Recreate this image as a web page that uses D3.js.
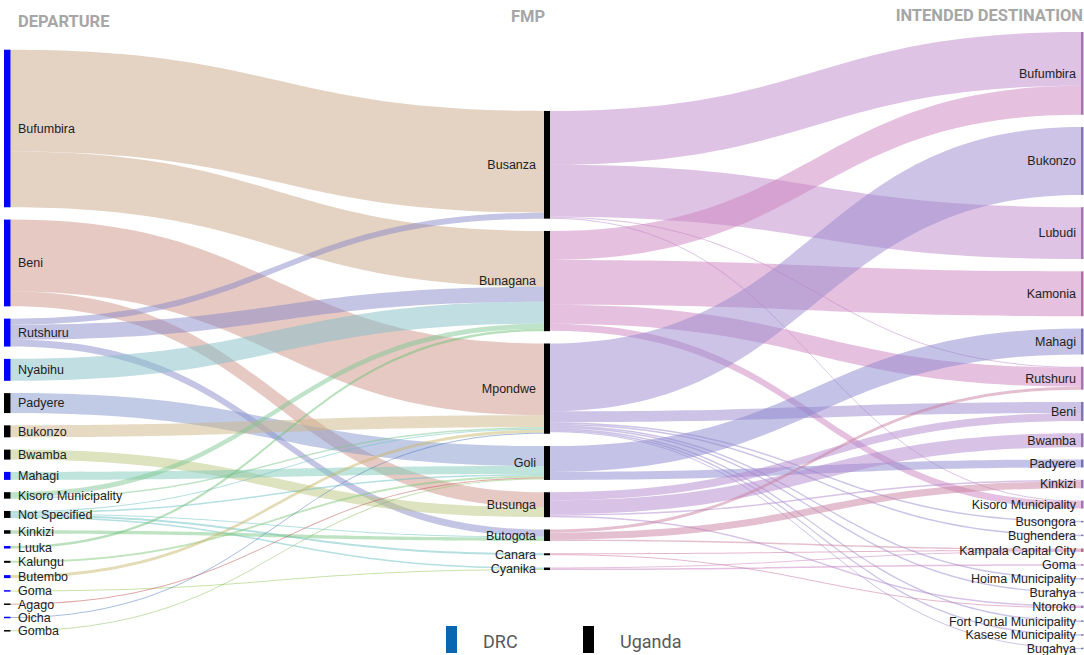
<!DOCTYPE html>
<meta charset="utf-8">
<script src="https://d3js.org/d3.v7.min.js"></script>
<style>
  body { margin: 0; background: #fff; }
</style>
<div id="chart"></div>
<script>

// departure districts, FMP crossing points, intended destinations
const departures = ["Bufumbira", "Beni", "Rutshuru", "Nyabihu", "Padyere", "Bukonzo", "Bwamba", "Mahagi",
  "Kisoro Municipality", "Not Specified", "Kinkizi", "Luuka", "Kalungu", "Butembo", "Goma", "Agago", "Oicha", "Gomba"];
const departureCountry = ["DRC", "DRC", "DRC", "DRC", "Uganda", "Uganda", "Uganda", "DRC",
  "Uganda", "Uganda", "Uganda", "DRC", "Uganda", "DRC", "DRC", "Uganda", "DRC", "Uganda"];
const fmps = ["Busanza", "Bunagana", "Mpondwe", "Goli", "Busunga", "Butogota", "Canara", "Cyanika"];
const destinations = ["Bufumbira", "Bukonzo", "Lubudi", "Kamonia", "Mahagi", "Rutshuru", "Beni", "Bwamba",
  "Padyere", "Kinkizi", "Kisoro Municipality", "Busongora", "Bughendera", "Kampala Capital City", "Goma",
  "Hoima Municipality", "Burahya", "Ntoroko", "Fort Portal Municipality", "Kasese Municipality", "Bugahya"];
const countries = ["DRC", "Uganda"];

// [departure, fmp, flow]
const departureFlows = [
  ["Bufumbira", "Busanza", 102], ["Bufumbira", "Bunagana", 56],
  ["Beni", "Mpondwe", 72], ["Beni", "Busunga", 15],
  ["Rutshuru", "Busanza", 6], ["Rutshuru", "Bunagana", 15], ["Rutshuru", "Butogota", 7],
  ["Nyabihu", "Bunagana", 22],
  ["Padyere", "Goli", 20],
  ["Bukonzo", "Mpondwe", 12],
  ["Bwamba", "Busunga", 10],
  ["Mahagi", "Goli", 8],
  ["Kisoro Municipality", "Bunagana", 5], ["Kisoro Municipality", "Mpondwe", 1.5],
  ["Not Specified", "Mpondwe", 1], ["Not Specified", "Goli", 1.5], ["Not Specified", "Butogota", 1],
  ["Not Specified", "Canara", 2], ["Not Specified", "Cyanika", 1.5],
  ["Kinkizi", "Butogota", 3.5],
  ["Luuka", "Bunagana", 2.5],
  ["Kalungu", "Goli", 2],
  ["Butembo", "Mpondwe", 3],
  ["Goma", "Cyanika", 1],
  ["Agago", "Goli", 1],
  ["Oicha", "Mpondwe", 1],
  ["Gomba", "Goli", 1]
];

// [fmp, destination, flow]
const destinationFlows = [
  ["Busanza", "Bufumbira", 54], ["Busanza", "Lubudi", 52], ["Busanza", "Rutshuru", 1], ["Busanza", "Kisoro Municipality", 1],
  ["Bunagana", "Bufumbira", 29], ["Bunagana", "Kamonia", 45], ["Bunagana", "Rutshuru", 19], ["Bunagana", "Kisoro Municipality", 7],
  ["Mpondwe", "Bukonzo", 68], ["Mpondwe", "Beni", 11], ["Mpondwe", "Busongora", 1.5], ["Mpondwe", "Bughendera", 1.5],
  ["Mpondwe", "Hoima Municipality", 1.5], ["Mpondwe", "Burahya", 1.5], ["Mpondwe", "Fort Portal Municipality", 1.5],
  ["Mpondwe", "Kasese Municipality", 1.5], ["Mpondwe", "Bugahya", 1],
  ["Goli", "Mahagi", 26], ["Goli", "Padyere", 8],
  ["Busunga", "Beni", 8], ["Busunga", "Bwamba", 14], ["Busunga", "Ntoroko", 1.5], ["Busunga", "Kinkizi", 1.5],
  ["Butogota", "Rutshuru", 3], ["Butogota", "Kinkizi", 7], ["Butogota", "Kampala Capital City", 1.5],
  ["Canara", "Kampala Capital City", 1], ["Canara", "Ntoroko", 1],
  ["Cyanika", "Goma", 1.5], ["Cyanika", "Kampala Capital City", 1]
];

// link colours, one per source node
const departureColors = ["#c9a787", "#cb9385", "#8989c9", "#83bdc7", "#8397cd", "#cdb587", "#bbc57f", "#7fc9b9",
  "#7fc791", "#6bbfc1", "#7bc787", "#73c17b", "#85c97f", "#c9b86f", "#93c555", "#bf5151", "#517bc1", "#8bc161"];
const fmpColors = ["#bd87cb", "#cb81bf", "#9987cd", "#8985cd", "#b187cd", "#c97f9f", "#c971a0", "#cb81c1"];
const countryColor = d3.scaleOrdinal().domain(countries).range(["#0000ff", "#000000"]);
const legendColor = d3.scaleOrdinal().domain(countries).range(["#0a66b0", "#000000"]);

const W = 1084, H = 655;
const svg = d3.select("#chart").append("svg")
  .attr("width", W).attr("height", H)
  .style("font-family", "'Liberation Sans', Arial, sans-serif");

// ---- layout ----
const colX = [[4, 10.5], [544, 550], [1081, 1083.5]];
const cols = [departures, fmps, destinations].map((names, c) =>
  names.map((name, i) => ({ name, col: c, index: i, x0: colX[c][0], x1: colX[c][1], inL: [], outL: [] })));
const lookup = {};
cols.forEach(col => col.forEach(n => lookup[n.col + ":" + n.name] = n));

const links = [];
departureFlows.forEach(([s, t, v]) => links.push({
  source: lookup["0:" + s], target: lookup["1:" + t], value: v, color: departureColors[departures.indexOf(s)]
}));
destinationFlows.forEach(([s, t, v]) => links.push({
  source: lookup["1:" + s], target: lookup["2:" + t], value: v, color: fmpColors[fmps.indexOf(s)]
}));
links.forEach(l => { l.source.outL.push(l); l.target.inL.push(l); });

cols.forEach(col => col.forEach(n => {
  n.value = Math.max(d3.sum(n.inL, l => l.value), d3.sum(n.outL, l => l.value));
}));

const yTop = 32, yBottom = 649, gap = 12.3;
const k = d3.min(cols, col => (yBottom - yTop - gap * (col.length - 1)) / d3.sum(col, n => n.value));
const h = d3.scaleLinear().domain([0, 1]).range([0, k]);
const yMid = (yTop + yBottom) / 2;

cols.forEach(col => {
  const total = h(d3.sum(col, n => n.value)) + gap * (col.length - 1);
  let y = yMid - total / 2;
  col.forEach(n => { n.y0 = y; n.y1 = y + h(n.value); y = n.y1 + gap; });
});

cols.forEach(col => col.forEach(n => {
  n.outL.sort((a, b) => a.target.y0 - b.target.y0);
  n.inL.sort((a, b) => a.source.y0 - b.source.y0);
  let y = n.y0;
  n.outL.forEach(l => { l.sy0 = y; y += h(l.value); l.sy1 = y; });
  y = n.y0;
  n.inL.forEach(l => { l.ty0 = y; y += h(l.value); l.ty1 = y; });
}));

function band(l) {
  const x0 = l.source.x1, x1 = l.target.x0, xm = (x0 + x1) / 2;
  const p = d3.path();
  p.moveTo(x0, l.sy0);
  p.bezierCurveTo(xm, l.sy0, xm, l.ty0, x1, l.ty0);
  p.lineTo(x1, l.ty1);
  p.bezierCurveTo(xm, l.ty1, xm, l.sy1, x0, l.sy1);
  p.closePath();
  return p.toString();
}

// ---- links ----
svg.append("g").selectAll("path")
  .data(links)
  .join("path")
  .attr("d", band)
  .attr("fill", d => d.color)
  .attr("fill-opacity", 0.5);

// ---- nodes ----
const nodes = cols.flat();
svg.append("g").selectAll("rect")
  .data(nodes)
  .join("rect")
  .attr("x", d => d.x0)
  .attr("y", d => (d.y0 + d.y1) / 2 - Math.max(d.y1 - d.y0, 1.5) / 2)
  .attr("width", d => d.x1 - d.x0)
  .attr("height", d => Math.max(d.y1 - d.y0, 1.5))
  .attr("fill", d => {
    if (d.col === 0) return countryColor(departureCountry[d.index]);
    if (d.col === 1) return "#000";
    return d3.color(d.inL[0].color).darker(0.4);
  });

svg.append("g").selectAll("text")
  .data(nodes)
  .join("text")
  .attr("x", d => d.col === 0 ? 18 : d.col === 1 ? 536 : 1076)
  .attr("y", d => (d.y0 + d.y1) / 2)
  .attr("dy", "0.35em")
  .attr("text-anchor", d => d.col === 0 ? "start" : "end")
  .attr("font-size", 12.5)
  .attr("fill", "#222")
  .text(d => d.name);

// ---- column headings ----
const headings = svg.append("g")
  .attr("font-family", "Roboto, 'Open Sans', sans-serif")
  .attr("font-weight", "bold")
  .attr("font-size", 16.5)
  .attr("fill", "#a6a6a6");
headings.append("text").attr("x", 18).attr("y", 26.5).text("DEPARTURE");
headings.append("text").attr("x", 528).attr("y", 21.5).attr("text-anchor", "middle").text("FMP");
headings.append("text").attr("x", 1083).attr("y", 21).attr("text-anchor", "end").text("INTENDED DESTINATION");

// ---- legend ----
const legend = svg.append("g")
  .attr("font-family", "Roboto, 'Open Sans', sans-serif")
  .attr("font-size", 18)
  .attr("fill", "#595959");
const legendX = d3.scalePoint().domain(countries).range([446, 583]);
legend.selectAll("rect")
  .data(countries)
  .join("rect")
  .attr("x", d => legendX(d))
  .attr("y", 626)
  .attr("width", 11)
  .attr("height", 27)
  .attr("fill", d => legendColor(d));
legend.selectAll("text")
  .data(countries)
  .join("text")
  .attr("x", d => legendX(d) + 37)
  .attr("y", 648)
  .text(d => d);

</script>
